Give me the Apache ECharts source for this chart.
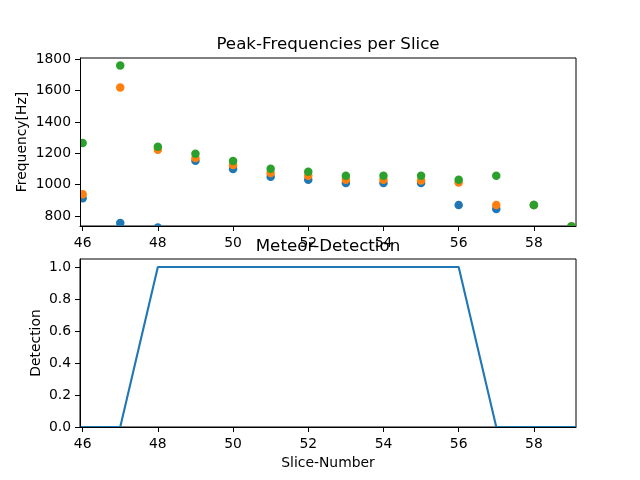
<!DOCTYPE html>
<html>
<head>
<meta charset="utf-8">
<script src="https://cdn.jsdelivr.net/npm/echarts@6/dist/echarts.min.js"></script>
<style>
  html, body { margin: 0; padding: 0; background: #fff; }
  #chart { width: 640px; height: 480px; }
</style>
</head>
<body>
<div id="chart"></div>
<script>
// ---- data ----
const sliceNumbers = [46, 47, 48, 49, 50, 51, 52, 53, 54, 55, 56, 57, 58, 59];
const freqBlue   = [913, 755, 726, 1153, 1099, 1050, 1031, 1010, 1010, 1010, 870, 845, 870, 733];
const freqOrange = [939, 1619, 1223, 1170, 1125, 1074, 1056, 1031, 1031, 1027, 1014, 870, 870, 733];
const freqGreen  = [1266, 1760, 1242, 1197, 1150, 1101, 1082, 1056, 1056, 1056, 1031, 1056, 870, 733];
const detection  = [0, 0, 1, 1, 1, 1, 1, 1, 1, 1, 1, 0, 0, 0];

const xTickValues    = [46, 48, 50, 52, 54, 56, 58];
const freqTickValues = [800, 1000, 1200, 1400, 1600, 1800];
const detTickValues  = [0, 0.2, 0.4, 0.6, 0.8, 1.0];

const xLimits    = [45.93, 59.12];
const freqLimits = [736, 1808];
const detLimits  = [0, 1.05];

const colors = ['#1f77b4', '#ff7f0e', '#2ca02c'];

// ---- chart ----
const FONT = 'DejaVu Sans';
const TICK_FS = 13.9;
const chart = echarts.init(document.getElementById('chart'), null, { renderer: 'canvas' });

function pairs(xs, ys) { return xs.map((x, i) => [x, ys[i]]); }

const detLineData = [[xLimits[0], detection[0]]]
  .concat(pairs(sliceNumbers, detection))
  .concat([[xLimits[1], detection[detection.length - 1]]]);

function xAxisCfg(gridIndex, withName) {
  return {
    type: 'value', gridIndex: gridIndex, min: xLimits[0], max: xLimits[1], z: 10,
    axisLine: { show: true, onZero: false, lineStyle: { color: '#000', width: 1 } },
    axisTick: { show: true, inside: false, length: 5, customValues: xTickValues, lineStyle: { color: '#000', width: 1 } },
    axisLabel: { show: true, customValues: xTickValues, margin: 10, color: '#000', fontFamily: FONT, fontSize: TICK_FS },
    splitLine: { show: false },
    name: withName ? 'Slice-Number' : '',
    nameLocation: 'middle', nameGap: 29, nameMoveOverlap: false,
    nameTextStyle: { color: '#000', fontFamily: FONT, fontSize: TICK_FS }
  };
}

function yAxisCfg(gridIndex, lim, ticks, name, gap, fmt) {
  return {
    type: 'value', gridIndex: gridIndex, min: lim[0], max: lim[1], z: 10,
    axisLine: { show: true, onZero: false, lineStyle: { color: '#000', width: 1 } },
    axisTick: { show: true, inside: false, length: 5, customValues: ticks, lineStyle: { color: '#000', width: 1 } },
    axisLabel: { show: true, customValues: ticks, margin: 9, color: '#000', fontFamily: FONT, fontSize: TICK_FS, formatter: fmt },
    splitLine: { show: false },
    name: name, nameLocation: 'middle', nameGap: gap, nameRotate: 90, nameMoveOverlap: false,
    nameTextStyle: { color: '#000', fontFamily: FONT, fontSize: TICK_FS }
  };
}

function scatterSeries(vals, color) {
  return {
    type: 'scatter', xAxisIndex: 0, yAxisIndex: 0, clip: false,
    data: pairs(sliceNumbers, vals), symbol: 'circle', symbolSize: 8.5,
    itemStyle: { color: color, opacity: 1 }, z: 2, silent: true
  };
}

const option = {
  animation: false,
  backgroundColor: '#fff',
  textStyle: { fontFamily: FONT },
  title: [
    { text: 'Peak-Frequencies per Slice', left: 328, top: 36, textAlign: 'center', padding: 0,
      textStyle: { color: '#000', fontFamily: FONT, fontSize: 16.7, fontWeight: 'normal' } },
    { text: 'Meteor-Detection', left: 328, top: 238, textAlign: 'center', padding: 0,
      textStyle: { color: '#000', fontFamily: FONT, fontSize: 16.7, fontWeight: 'normal' } }
  ],
  grid: [
    { left: 80, top: 58, width: 496, height: 168, show: true, borderColor: '#000', borderWidth: 1, backgroundColor: '#fff', containLabel: false },
    { left: 80, top: 259, width: 496, height: 168, show: true, borderColor: '#000', borderWidth: 1, backgroundColor: '#fff', containLabel: false }
  ],
  xAxis: [ xAxisCfg(0, false), xAxisCfg(1, true) ],
  yAxis: [
    yAxisCfg(0, freqLimits, freqTickValues, 'Frequency[Hz]', 51, v => String(v)),
    yAxisCfg(1, detLimits, detTickValues, 'Detection', 37, v => v.toFixed(1))
  ],
  graphic: [
    // white masks so markers are clipped at the top axes frame like in the reference
    { type: 'rect', z: 5, silent: true, shape: { x: 60, y: 226, width: 530, height: 8 }, style: { fill: '#fff' } },
    { type: 'rect', z: 5, silent: true, shape: { x: 70, y: 50, width: 10, height: 184 }, style: { fill: '#fff' } }
  ],
  series: [
    scatterSeries(freqBlue, colors[0]),
    scatterSeries(freqOrange, colors[1]),
    scatterSeries(freqGreen, colors[2]),
    {
      type: 'line', xAxisIndex: 1, yAxisIndex: 1, data: detLineData,
      showSymbol: false, symbol: 'none', clip: false,
      lineStyle: { color: colors[0], width: 2.1 }, z: 2, silent: true
    }
  ]
};
chart.setOption(option);
</script>
</body>
</html>
